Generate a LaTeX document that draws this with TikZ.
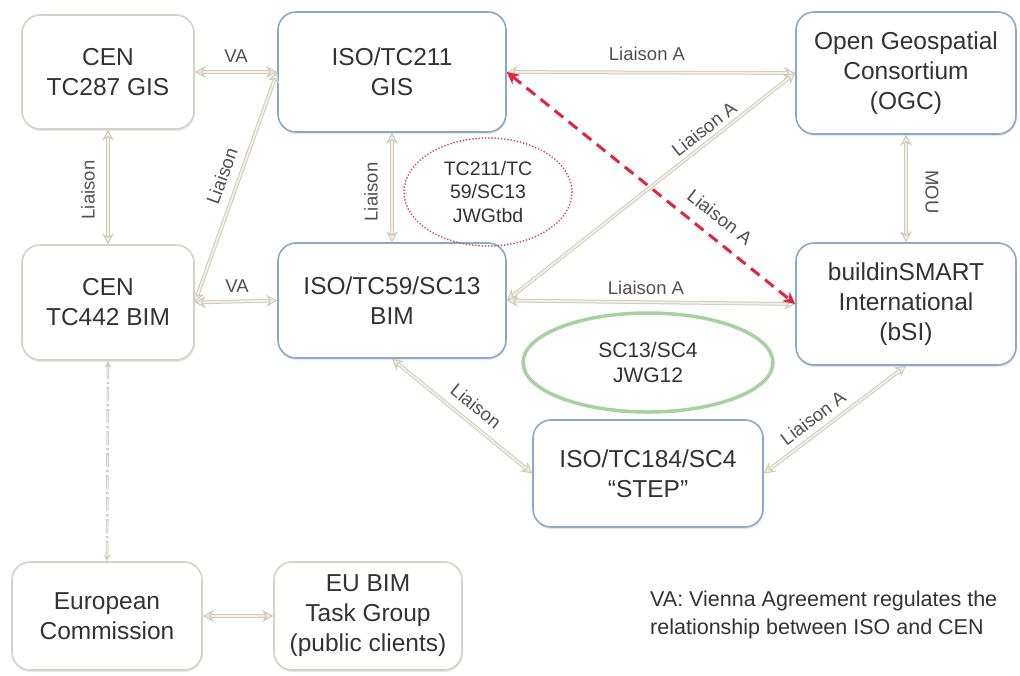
\documentclass[tikz,border=0pt]{standalone}
\usepackage{fontspec}
\setmainfont{Liberation Sans}
\usetikzlibrary{arrows.meta,shapes.geometric,shadows}
\definecolor{boxtxt}{HTML}{333333}
\definecolor{lbltxt}{HTML}{505050}
\definecolor{graybd}{HTML}{D4D2C8}
\definecolor{bluebd}{HTML}{8AA7CC}
\definecolor{connout}{HTML}{D0CCBD}
\definecolor{connin}{HTML}{F4F1E4}
\definecolor{redc}{HTML}{E0253F}
\definecolor{dotred}{HTML}{D2506E}
\definecolor{greenc}{HTML}{A6D29F}
\tikzset{
  box/.style={rectangle, rounded corners=18pt, fill=white, line width=1.6pt, align=center,
    text=boxtxt, font=\fontsize{24.5}{30}\selectfont, inner sep=0pt,
    drop shadow={shadow xshift=0.8pt, shadow yshift=-2pt, opacity=0.18}},
  graybox/.style={box, draw=graybd},
  bluebox/.style={box, draw=bluebd},
  lbl/.style={text=lbltxt, font=\fontsize{18.5}{22}\selectfont, inner sep=0pt},
  tipc/.tip={Stealth[length=11pt, width=12pt, inset=3.5pt, fill=connin, line width=1.1pt]},
  conn/.style={draw=connout, line width=3.8pt, tipc-tipc,
    postaction={draw=connin, line width=1.8pt, -, shorten <=8pt, shorten >=8pt}},
  redconn/.style={draw=redc, line width=3pt, dash pattern=on 11pt off 7pt,
    {Stealth[length=12pt, width=12pt]}-{Stealth[length=12pt, width=12pt]}},
  dashconn/.style={draw=connout, line width=2.6pt, dash pattern=on 14pt off 3pt on 2pt off 3pt,
    {Stealth[length=7pt, width=7pt, fill=connin]}-{Stealth[length=7pt, width=7pt, fill=connin]},
    postaction={draw=connin, line width=1pt, -, dash pattern=on 14pt off 3pt on 2pt off 3pt, shorten <=6pt, shorten >=6pt}},
  wg/.style={ellipse, inner sep=0pt, align=center, text=boxtxt}
}
\begin{document}
\begin{tikzpicture}[x=1pt, y=-1pt]
\useasboundingbox[fill=white] (0,0) rectangle (1020,675);

% boxes
\node[graybox, minimum width=172pt, minimum height=114pt] (cen287) at (108,72) {CEN\\TC287 GIS};
\node[bluebox, minimum width=228pt, minimum height=120pt] (iso211) at (392,72) {ISO/TC211\\GIS};
\node[bluebox, minimum width=220pt, minimum height=122pt] (ogc) at (906,73) {Open Geospatial\\Consortium\\(OGC)};
\node[graybox, minimum width=172pt, minimum height=115pt] (cen442) at (108,302.5) {CEN\\TC442 BIM};
\node[bluebox, minimum width=228pt, minimum height=115pt] (iso59) at (392,300.5) {ISO/TC59/SC13\\BIM};
\node[bluebox, minimum width=220pt, minimum height=122pt] (bsi) at (906,304) {buildinSMART\\International\\(bSI)};
\node[bluebox, minimum width=230pt, minimum height=107pt] (step) at (648,473.5) {ISO/TC184/SC4\\``STEP''};
\node[graybox, minimum width=190pt, minimum height=108pt] (ec) at (107,616) {European\\Commission};
\node[graybox, minimum width=188pt, minimum height=108pt] (eubim) at (368,616) {EU BIM\\Task Group\\(public clients)};

% working groups
\node[wg, draw=dotred, line width=2pt, line cap=round, dash pattern=on 0pt off 3.2pt,
  minimum width=168pt, minimum height=108pt, font=\fontsize{19.5}{23.5}\selectfont] (jwgtbd) at (488,192) {TC211/TC\\59/SC13\\JWGtbd};
\node[wg, draw=greenc, line width=3.5pt, minimum width=250pt, minimum height=99pt,
  font=\fontsize{21}{25}\selectfont] (jwg12) at (648,362.5) {SC13/SC4\\JWG12};

% connectors
\draw[conn] (cen287.east) -- (iso211.west);
\draw[conn] (cen287.south) -- (cen442.north);
\draw[conn] (iso211.west) -- (cen442.east);
\draw[conn] (cen442.east) -- (iso59.west);
\draw[conn] (iso211.south) -- (iso59.north);
\draw[conn] (iso211.east) -- (ogc.west);
\draw[conn] (iso59.east) -- (ogc.west);
\draw[conn] (iso59.east) -- (bsi.west);
\draw[conn] (ogc.south) -- (bsi.north);
\draw[conn] (iso59.south) -- (step.west);
\draw[conn] (step.east) -- (bsi.south);
\draw[dashconn] (cen442.south) -- (ec.north);
\draw[conn] (ec.east) -- (eubim.west);
\draw[redconn] (iso211.east) -- (bsi.west);

% labels
\node[lbl] (lva1) at (236,56) {VA};
\node[lbl] (lva2) at (237,286) {VA};
\node[lbl, rotate=90] (lli1) at (88,190) {Liaison};
\node[lbl, rotate=70] (lli2) at (222,176) {Liaison};
\node[lbl, rotate=90] (lli3) at (371,192) {Liaison};
\node[lbl] (lla1) at (647,54) {Liaison A};
\node[lbl, rotate=38] (lla2) at (704,129) {Liaison A};
\node[lbl, rotate=-38] (lla3) at (720,217) {Liaison A};
\node[lbl] (lla4) at (646,288) {Liaison A};
\node[lbl, rotate=-90] (lmou) at (932,192) {MOU};
\node[lbl, rotate=-39] (lli4) at (476,406) {Liaison};
\node[lbl, rotate=37] (lla5) at (813,418) {Liaison A};

% note
\node[anchor=west, align=left, inner sep=0pt, text=boxtxt, font=\fontsize{21.5}{28}\selectfont] (note) at (650,615)
  {VA: Vienna Agreement regulates the\\relationship between ISO and CEN};
\end{tikzpicture}
\end{document}
